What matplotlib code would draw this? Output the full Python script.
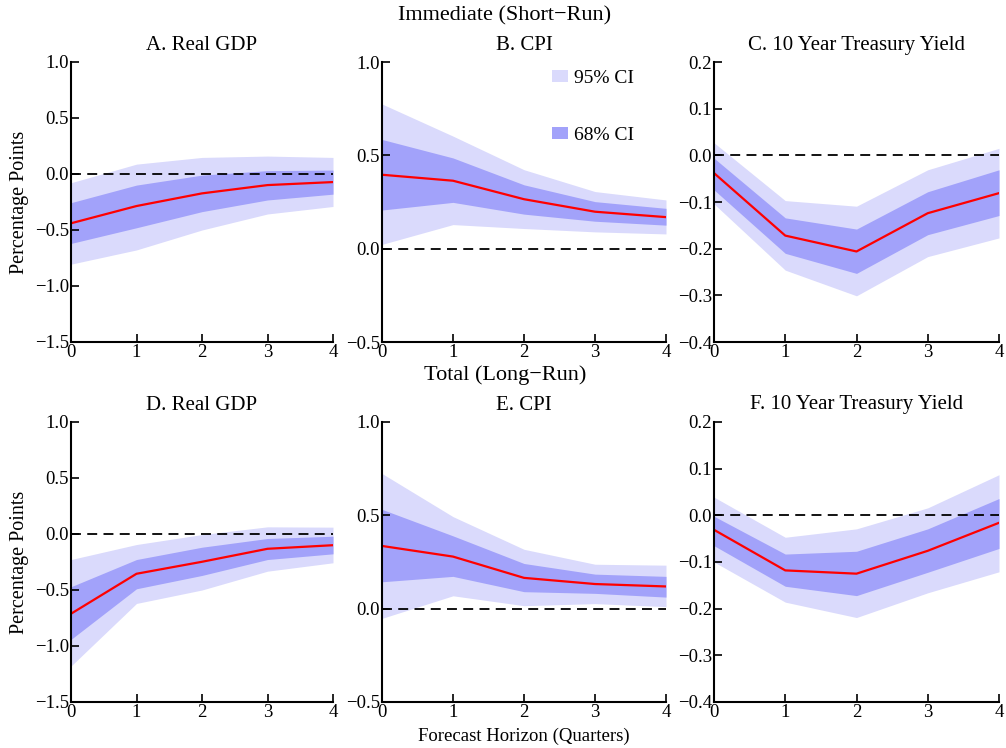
import matplotlib
matplotlib.use("Agg")
import matplotlib.pyplot as plt
from matplotlib.patches import Patch

plt.rcParams['font.family'] = ['Liberation Serif', 'DejaVu Serif']
plt.rcParams['font.size'] = 13

horizon = [0, 1, 2, 3, 4]

# Immediate (short-run) responses
gdp_sr = [-0.44, -0.286, -0.173, -0.099, -0.072]
gdp_sr_68 = ([-0.62, -0.48, -0.336, -0.232, -0.18], [-0.256, -0.099, -0.01, 0.03, 0.035])
gdp_sr_95 = ([-0.805, -0.678, -0.50, -0.357, -0.29], [-0.078, 0.088, 0.148, 0.16, 0.148])

cpi_sr = [0.396, 0.364, 0.265, 0.198, 0.169]
cpi_sr_68 = ([0.207, 0.248, 0.185, 0.147, 0.126], [0.585, 0.486, 0.342, 0.252, 0.216])
cpi_sr_95 = ([0.023, 0.129, 0.108, 0.09, 0.079], [0.775, 0.603, 0.423, 0.306, 0.261])

ty_sr = [-0.038, -0.172, -0.206, -0.124, -0.081]
ty_sr_68 = ([-0.074, -0.21, -0.253, -0.17, -0.129], [-0.006, -0.134, -0.158, -0.078, -0.031])
ty_sr_95 = ([-0.104, -0.246, -0.301, -0.217, -0.177], [0.027, -0.097, -0.109, -0.031, 0.015])

# Total (long-run) responses
gdp_lr = [-0.712, -0.355, -0.248, -0.132, -0.10]
gdp_lr_68 = ([-0.941, -0.489, -0.37, -0.228, -0.177], [-0.471, -0.228, -0.118, -0.04, -0.02])
gdp_lr_95 = ([-1.179, -0.62, -0.50, -0.332, -0.257], [-0.228, -0.094, -0.005, 0.064, 0.061])

cpi_lr = [0.336, 0.279, 0.165, 0.132, 0.119]
cpi_lr_68 = ([0.144, 0.173, 0.091, 0.082, 0.062], [0.532, 0.39, 0.242, 0.185, 0.173])
cpi_lr_95 = ([-0.052, 0.069, 0.016, 0.027, 0.011], [0.724, 0.493, 0.318, 0.238, 0.233])

ty_lr = [-0.031, -0.118, -0.125, -0.076, -0.016]
ty_lr_68 = ([-0.065, -0.152, -0.172, -0.122, -0.071], [-0.002, -0.083, -0.077, -0.029, 0.036])
ty_lr_95 = ([-0.10, -0.186, -0.219, -0.166, -0.121], [0.039, -0.047, -0.029, 0.016, 0.087])

titles = ["A. Real GDP", "B. CPI", "C. 10 Year Treasury Yield",
          "D. Real GDP", "E. CPI", "F. 10 Year Treasury Yield"]
medians = [gdp_sr, cpi_sr, ty_sr, gdp_lr, cpi_lr, ty_lr]
bands68 = [gdp_sr_68, cpi_sr_68, ty_sr_68, gdp_lr_68, cpi_lr_68, ty_lr_68]
bands95 = [gdp_sr_95, cpi_sr_95, ty_sr_95, gdp_lr_95, cpi_lr_95, ty_lr_95]

ylims = [(-1.5, 1.0), (-0.5, 1.0), (-0.4, 0.2)]
yticks = [[-1.5, -1.0, -0.5, 0.0, 0.5, 1.0],
          [-0.5, 0.0, 0.5, 1.0],
          [-0.4, -0.3, -0.2, -0.1, 0.0, 0.1, 0.2]]

light = (0.855, 0.855, 0.99)
dark = (0.635, 0.635, 0.98)

W, H = 1006, 748
fig = plt.figure(figsize=(W / 100, H / 100), dpi=100)

col_px = [(71, 333), (382, 666), (714, 999)]
row_px = [(62, 342), (422, 702)]

axes = []
for r in range(2):
    for c in range(3):
        x0, x1 = col_px[c]
        y0, y1 = row_px[r]
        ax = fig.add_axes([x0 / W, 1 - y1 / H, (x1 - x0) / W, (y1 - y0) / H])
        axes.append(ax)
        i = r * 3 + c
        lo95, hi95 = bands95[i]
        lo68, hi68 = bands68[i]
        ax.fill_between(horizon, lo95, hi95, color=light, lw=0)
        ax.fill_between(horizon, lo68, hi68, color=dark, lw=0)
        ax.plot(horizon, [0] * len(horizon), color='black', ls=(0, (5.5, 3.5)), lw=1.3)
        ax.plot(horizon, medians[i], color='red', lw=1.6)
        ax.set_xlim(0, 4)
        ax.set_ylim(*ylims[c])
        ax.set_xticks(horizon)
        ax.set_yticks(yticks[c])
        ax.set_yticklabels([f"{v:.1f}".replace("-", "\u2212") for v in yticks[c]])
        ax.spines['top'].set_visible(False)
        ax.spines['right'].set_visible(False)
        ax.spines['left'].set_linewidth(1.5)
        ax.spines['bottom'].set_linewidth(1.5)
        ax.tick_params(direction='in', length=6, width=1.2, labelsize=13.5, pad=1.5)
        ax.set_title(titles[i], fontsize=15, pad=9)
        if c == 0:
            ax.set_ylabel("Percentage Points", fontsize=14.5, labelpad=4)

leg_handles = [Patch(facecolor=light, edgecolor='none', label="95% CI"),
               Patch(facecolor=dark, edgecolor='none', label="68% CI")]
axes[1].legend(handles=leg_handles, loc='upper right', bbox_to_anchor=(0.95, 1.035),
               frameon=False, fontsize=14, labelspacing=2.05, handlelength=0.85,
               handleheight=0.55, handletextpad=0.3)

fig.text(505 / W, 1 - 16 / H, "Immediate (Short\u2212Run)", ha='center', va='center', fontsize=16)
fig.text(505 / W, 1 - 375 / H, "Total (Long\u2212Run)", ha='center', va='center', fontsize=16)
fig.text(524 / W, 1 - 736 / H, "Forecast Horizon (Quarters)", ha='center', va='center', fontsize=13.5)

fig.savefig("out.png", dpi=100)
